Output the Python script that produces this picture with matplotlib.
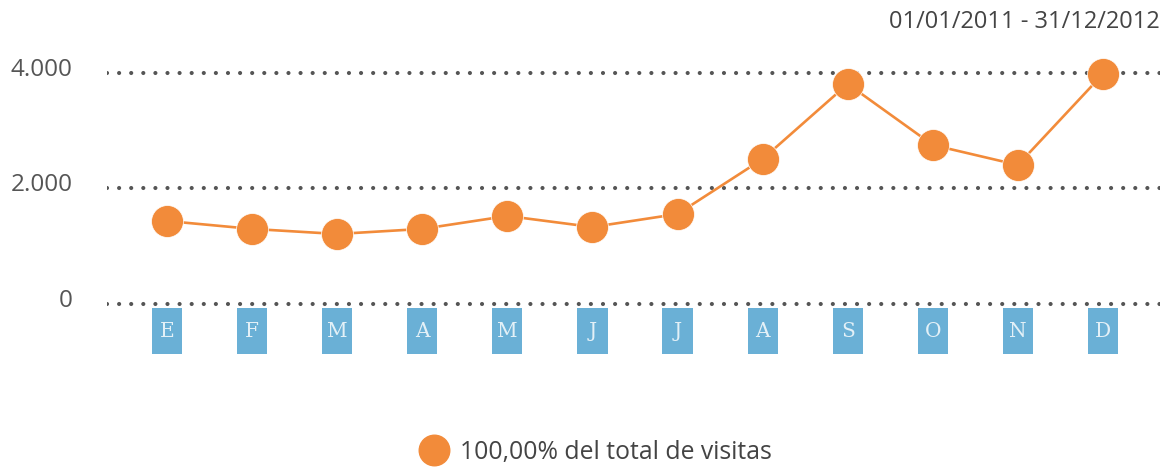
#!/usr/bin/env python3
"""Visitas mensuales 2011-2012: línea con marcadores y etiquetas de mes en cajas."""

import matplotlib

matplotlib.use("Agg")
import matplotlib.pyplot as plt
import matplotlib.transforms as mtransforms
from matplotlib.lines import Line2D
from matplotlib.ticker import FuncFormatter

plt.rcParams["font.family"] = ["Open Sans", "DejaVu Sans"]
plt.rcParams["lines.scale_dashes"] = False

MONTHS = ["E", "F", "M", "A", "M", "J", "J", "A", "S", "O", "N", "D"]
VISITS = [1437, 1300, 1212, 1300, 1524, 1333, 1558, 2510, 3810, 2753, 2407, 3983]
Y_TICKS = [0, 2000, 4000]
DATE_RANGE = "01/01/2011 - 31/12/2012"
LEGEND_LABEL = "100,00% del total de visitas"

ORANGE = "#f28b3a"
BLUE = "#6ab0d6"
GREY = "#555555"

fig = plt.figure(figsize=(11.69, 4.70), dpi=100)
ax = fig.add_axes([107 / 1169, 110 / 470, 1053 / 1169, 300 / 470])

x = list(range(len(MONTHS)))

# rejilla punteada
for y in Y_TICKS:
    ax.axhline(y, color=GREY, linewidth=3.0, linestyle=(0, (0.01, 8.7)),
               dash_capstyle="round", zorder=1)

ax.plot(x, VISITS, color=ORANGE, linewidth=1.9, zorder=2)
ax.plot(x, VISITS, linestyle="none", marker="o", markersize=23,
        color=ORANGE, markeredgecolor="white", markeredgewidth=0.5,
        zorder=3, clip_on=False)

# cajas azules con la inicial del mes
ax.bar(x, -797, bottom=-69, width=0.355, color=BLUE, zorder=2)
for i, m in enumerate(MONTHS):
    ax.text(i, -480, m, ha="center", va="center", color="#e3f0f7",
            fontsize=14.5, family="DejaVu Serif", zorder=4)

ax.set_xlim(-0.705, 11.67)
ax.set_ylim(-970, 4225)
ax.set_yticks(Y_TICKS)
ax.yaxis.set_major_formatter(FuncFormatter(lambda v, _: f"{int(v):,}".replace(",", ".")))
ax.tick_params(axis="y", length=0, pad=25, labelsize=17.5, labelcolor=GREY)
shift = mtransforms.ScaledTranslation(0, -3 / 100, fig.dpi_scale_trans)
for lbl in ax.get_yticklabels():
    lbl.set_verticalalignment("baseline")
    lbl.set_transform(lbl.get_transform() + shift)
ax.set_xticks([])
for s in ax.spines.values():
    s.set_visible(False)

fig.text(1160 / 1169, 1 - 22 / 470, DATE_RANGE, ha="right", va="center",
         fontsize=17, color="#444444")

handle = Line2D([], [], linestyle="none", marker="o", markersize=22, color=ORANGE)
fig.legend(handles=[handle], labels=[LEGEND_LABEL], loc="center",
           bbox_to_anchor=(597 / 1169, 1 - 452 / 470), frameon=False,
           fontsize=17.8, labelcolor="#444444", handletextpad=0.6,
           handlelength=0.9)

fig.savefig("out.png", dpi=100)
